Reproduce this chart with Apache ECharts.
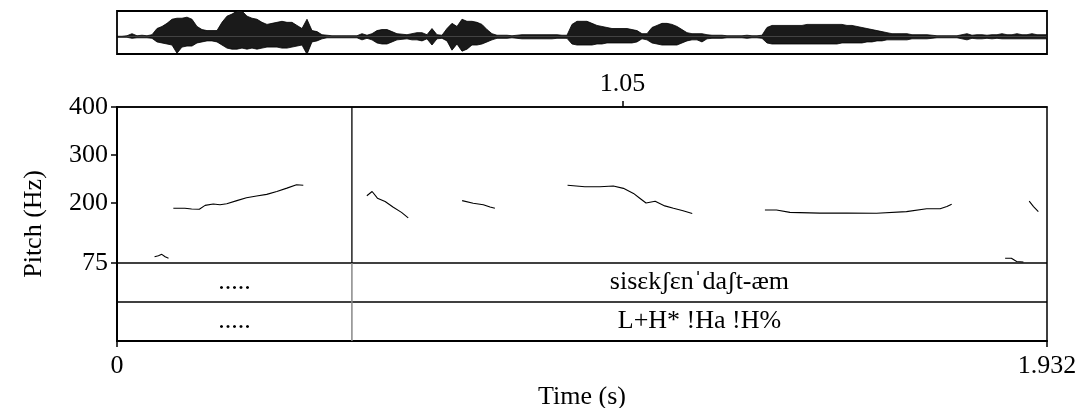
<!DOCTYPE html>
<html>
<head>
<meta charset="utf-8">
<script src="https://cdn.jsdelivr.net/npm/echarts@6/dist/echarts.min.js"></script>
<style>
html,body{margin:0;padding:0;background:#fff;}
#chart{width:1078px;height:408px;}
</style>
</head>
<body>
<div id="chart"></div>
<script>
// ---------- data ----------
const timeMin = 0;
const timeMax = 1.932;
const topTimeTicks = [1.05];
const bottomTimeTicks = [0, 1.932];
const pitchTicks = [75, 200, 300, 400];
const pitchMin = 75;
const pitchMax = 400;
const tierRowSpan = 81.25; // height of one tier row in pitch-axis units

// TextGrid tiers
const tierEdges = [0, 0.488, 1.932];
const tier1Labels = ['.....', 'sisɛkʃɛnˈdaʃt-æm'];
const tier2Labels = ['.....', 'L+H* !Ha !H%'];

// Pitch contour segments: [time (s), F0 (Hz)]
const pitchSeg1 = [[0.078,88],[0.086,90],[0.093,93],[0.100,88],[0.107,85]];
const pitchSeg2 = [[0.117,189],[0.141,189],[0.155,187.5],[0.171,187],[0.183,195],[0.200,198],[0.214,196.5],[0.228,198.5],[0.249,205],[0.269,211],[0.290,214.5],[0.311,218],[0.332,224],[0.353,231],[0.373,238],[0.387,237]];
const pitchSeg3 = [[0.519,215],[0.530,224],[0.541,210],[0.557,203],[0.574,191],[0.591,180.5],[0.605,169]];
const pitchSeg4 = [[0.717,205],[0.740,199.5],[0.761,196.5],[0.775,191.5],[0.785,189]];
const pitchSeg5 = [[0.936,237],[0.972,234],[1.003,234],[1.031,235.5],[1.052,230.5],[1.073,220],[1.086,210],[1.099,200],[1.118,203.5],[1.138,194],[1.156,189],[1.176,184],[1.195,178]];
const pitchSeg6 = [[1.346,185.5],[1.370,185.5],[1.398,180.5],[1.460,179],[1.516,179],[1.578,178.5],[1.640,182],[1.682,188],[1.710,188],[1.724,192.5],[1.734,197.5]];
const pitchSeg7 = [[1.845,85],[1.858,85],[1.869,78],[1.883,77]];
const pitchSeg8 = [[1.895,204],[1.904,192.5],[1.914,182]];

// Waveform envelope (upper / lower amplitude), one value every waveStep seconds
const waveStep = 0.010387;
const waveUpper = [
0.5,0.5,1,3,1,1.5,1,2, 8,10,13,17,18,18,19,17, 10,7,6,6,6, 14,20,22,25,25,20,18,17, 14,12,13,14,15,14,14,11, 8,17,6,5,2,1.5,1,1,1,1,
1,1,3,1.5,3,6,7,7,5,3, 2.5,2,3,4,4,2,8,2,1.5,8, 13,10,17,15,15,14,12,7,3,1.5, 1.5,1.5,1,1.5,2,2,2,2,2,2, 2,2,1.5,1.5,12,
15,15,15,13,11,10,9,8,8,8, 8,7,6,3,3,9,11,13,13,12, 10,7,4,3,3,3,2,1.5,1.5,1.5, 1,1,1,1,1.5,1,1,1.5,9,11, 11,11,11,11,11,11,12,12,
12,12,12,12,12,12,11,11,10,9, 8,7,6,5,4,3,3,3,3,2, 2,2,2,1.5,1,1,1,1,1,2, 3,1.5,2,2,1.5,2,2,3,2,2, 3,2,2,3,2,2,2
];
const waveLower = [
0.5,0.5,0.5,1.5,1,1,1,1.5, 5,6,7,8,16,10,9,9, 6,5,4,4,5, 8,11,12,12,11,12,11,12, 11,10,10,10,11,11,10,9, 8,17,5,4,2,1,1,1,1,1,
1,1,3,1.5,3,6,7,7,5,3, 2.5,2,3,3,4,2,8,2,1.5,4, 13,7,14,12,8,8,7,5,3,1.5, 1.5,1.5,1,1.5,2,2,2,2,2,2, 2,1.5,1.5,1.5,7,
8,8,8,8,7,7,6,6,6,6, 6,6,5,2,3,6,7,8,8,8, 8,6,4,3,3,5,2,1.5,1.5,1.5, 1,1,1,1,1.5,1,1,1.5,6,7, 7,7,7,7,7,7,7,7,
7,7,7,7,7,6,6,6,6,6, 5,5,4,4,3,3,3,3,3,2, 2,2,2,1.5,1,1,1,1,1,2, 3,1.5,2,2,1.5,2,1.5,2,2,2, 2,2,2,2,2,2,2
];
const waveMin = -16.7;
const waveMax = 25;

// ---------- build ----------
const FONT = '"Liberation Serif","Times New Roman",serif';
const FS = 26;
const tierFloor = pitchMin - 2 * tierRowSpan;
const tierMid1 = pitchMin - tierRowSpan / 2;
const tierMid2 = pitchMin - 1.5 * tierRowSpan;

const waveUpData = waveUpper.map((v, i) => [timeMin + i * waveStep, v]);
const waveLowData = waveLower.map((v, i) => [timeMin + i * waveStep, -v]);

const pitchSegments = [pitchSeg1, pitchSeg2, pitchSeg3, pitchSeg4, pitchSeg5, pitchSeg6, pitchSeg7, pitchSeg8];

function tierLabelData(labels, y) {
  return labels.map((txt, i) => ({ name: txt, value: [(tierEdges[i] + tierEdges[i + 1]) / 2, y] }));
}
const tierTextItems = tierLabelData(tier1Labels, tierMid1).concat(tierLabelData(tier2Labels, tierMid2));

const series = [];
// waveform
series.push({
  type: 'line', xAxisIndex: 0, yAxisIndex: 0, data: waveUpData, symbol: 'none',
  lineStyle: { color: '#000', width: 0.8 }, areaStyle: { color: '#1a1a1a', opacity: 1 }, silent: true
});
series.push({
  type: 'line', xAxisIndex: 0, yAxisIndex: 0, data: waveLowData, symbol: 'none',
  lineStyle: { color: '#000', width: 0.8 }, areaStyle: { color: '#1a1a1a', opacity: 1 }, silent: true
});
// pitch segments
pitchSegments.forEach(seg => {
  series.push({
    type: 'line', xAxisIndex: 1, yAxisIndex: 1, data: seg, symbol: 'none',
    lineStyle: { color: '#000', width: 1.1 }, silent: true
  });
});
// tier separators (horizontal)
[pitchMin, pitchMin - tierRowSpan].forEach(y => {
  series.push({
    type: 'line', xAxisIndex: 1, yAxisIndex: 1, data: [[timeMin, y], [timeMax, y]], symbol: 'none',
    lineStyle: { color: '#000', width: 1.6 }, silent: true
  });
});
// interval boundary (vertical) - black in pitch area, grey in tiers
tierEdges.slice(1, -1).forEach(t => {
  series.push({
    type: 'line', xAxisIndex: 1, yAxisIndex: 1, data: [[t, pitchMin], [t, pitchMax]], symbol: 'none',
    lineStyle: { color: '#000', width: 1.3 }, silent: true
  });
  series.push({
    type: 'line', xAxisIndex: 1, yAxisIndex: 1, data: [[t, tierFloor], [t, pitchMin]], symbol: 'none',
    lineStyle: { color: '#888', width: 1.5 }, silent: true
  });
});
// tier texts (custom series placing text through the axes)
series.push({
  type: 'custom', xAxisIndex: 1, yAxisIndex: 1, silent: true,
  data: tierTextItems.map(d => ({ name: d.name, value: d.value })),
  encode: { x: 0, y: 1 },
  renderItem: function (params, api) {
    const p = api.coord([api.value(0), api.value(1)]);
    return {
      type: 'text',
      x: p[0], y: p[1],
      style: {
        text: tierTextItems[params.dataIndex].name,
        fill: '#000',
        font: FS + 'px ' + FONT,
        align: 'center',
        verticalAlign: 'middle'
      }
    };
  }
});

const option = {
  animation: false,
  backgroundColor: '#fff',
  grid: [
    { left: 117, top: 11, width: 930, height: 43, show: true, borderColor: '#000', borderWidth: 1.8, backgroundColor: 'transparent', outerBoundsMode: 'none', containLabel: false },
    { left: 117, top: 107, width: 930, height: 234, show: true, borderColor: '#000', borderWidth: 1.5, backgroundColor: 'transparent', outerBoundsMode: 'none', containLabel: false }
  ],
  xAxis: [
    { gridIndex: 0, type: 'value', min: timeMin, max: timeMax, show: false },
    { gridIndex: 1, type: 'value', position: 'top', min: timeMin, max: timeMax,
      axisLine: { show: true, onZero: false, lineStyle: { color: '#000', width: 1.5 } },
      axisTick: { show: true, inside: false, length: 6, lineStyle: { color: '#000', width: 1.5 }, customValues: topTimeTicks },
      axisLabel: { show: true, margin: 10, customValues: topTimeTicks, formatter: v => String(v), color: '#000', fontFamily: FONT, fontSize: FS },
      splitLine: { show: false } },
    { gridIndex: 1, type: 'value', position: 'bottom', min: timeMin, max: timeMax,
      name: 'Time (s)', nameLocation: 'middle', nameGap: 40,
      nameTextStyle: { color: '#000', fontFamily: FONT, fontSize: FS },
      axisLine: { show: true, onZero: false, lineStyle: { color: '#000', width: 2 } },
      axisTick: { show: true, inside: false, length: 6, lineStyle: { color: '#000', width: 1.5 }, customValues: bottomTimeTicks },
      axisLabel: { show: true, margin: 12, customValues: bottomTimeTicks, formatter: v => String(v), color: '#000', fontFamily: FONT, fontSize: FS },
      splitLine: { show: false } }
  ],
  yAxis: [
    { gridIndex: 0, type: 'value', min: waveMin, max: waveMax, show: false },
    { gridIndex: 1, type: 'value', min: tierFloor, max: pitchMax,
      name: 'Pitch (Hz)', nameLocation: 'middle', nameGap: 70, nameRotate: 90,
      nameTextStyle: { color: '#000', fontFamily: FONT, fontSize: FS },
      axisLine: { show: true, onZero: false, lineStyle: { color: '#000', width: 2 } },
      axisTick: { show: true, inside: false, length: 6, lineStyle: { color: '#000', width: 1.5 }, customValues: pitchTicks },
      axisLabel: { show: true, margin: 9, customValues: pitchTicks, formatter: v => String(v), color: '#000', fontFamily: FONT, fontSize: FS },
      splitLine: { show: false } }
  ],
  series: series
};

const chart = echarts.init(document.getElementById('chart'), null, { renderer: 'canvas' });
chart.setOption(option);
</script>
</body>
</html>
